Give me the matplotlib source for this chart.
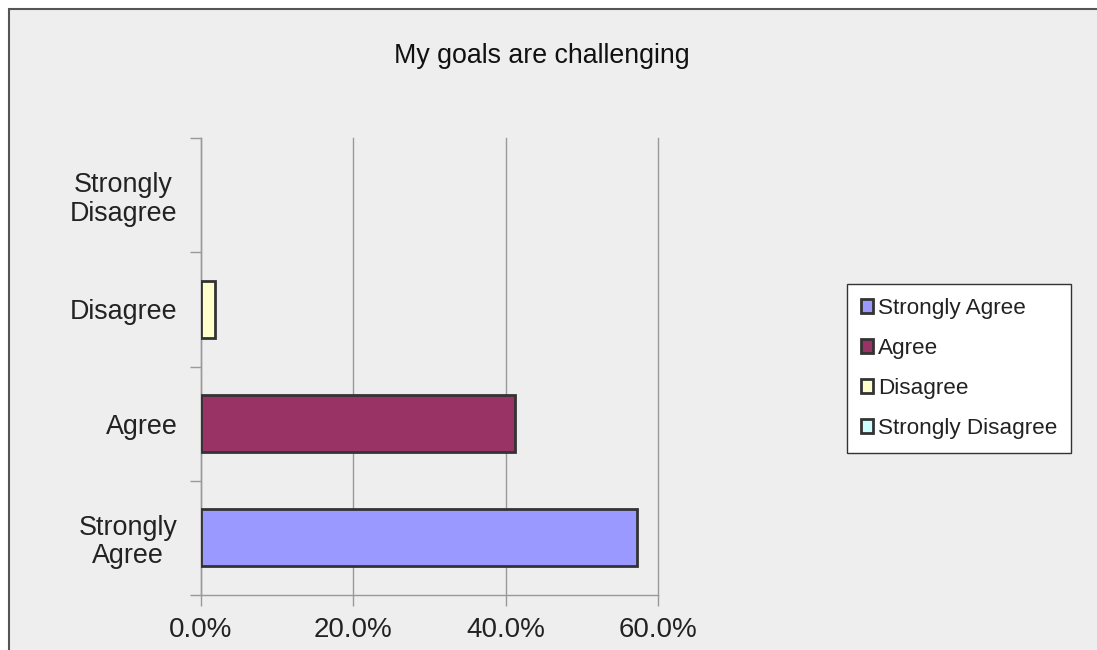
import matplotlib
matplotlib.use("Agg")
import matplotlib.pyplot as plt
from matplotlib.patches import Rectangle
from matplotlib.ticker import PercentFormatter

# data
categories = ["Strongly Agree", "Agree", "Disagree", "Strongly Disagree"]
tick_labels = ["Strongly\nAgree", "Agree", "Disagree", "Strongly\nDisagree"]
values = [0.572, 0.412, 0.019, 0.0]
colors = ["#9999FF", "#993366", "#FFFFCC", "#CCFFFF"]
x_ticks = [0.0, 0.2, 0.4, 0.6]

plt.rcParams['font.family'] = ['Liberation Sans', 'DejaVu Sans']

W, H = 1097, 650
fig = plt.figure(figsize=(W / 100, H / 100), dpi=100, facecolor="white")

# chart area background with the border on left/top
bg = Rectangle((9 / W, -0.02), 1.05, 1 - 9 / H + 0.02, transform=fig.transFigure,
               facecolor="#EEEEEE", edgecolor="#555555", linewidth=1.5, zorder=-10)
fig.patches.append(bg)

ax = fig.add_axes([201 / W, 1 - 595 / H, (658 - 201) / W, (595 - 138) / H])
ax.set_facecolor("none")

for i, (cat, val, col) in enumerate(zip(categories, values, colors)):
    # a zero bar shows nothing, not even an edge
    ec = "#333333" if val > 0 else "none"
    b = ax.barh(i, val, height=0.5, color=col, edgecolor=ec, linewidth=2,
                label=cat, zorder=3)

ax.set_xlim(0, 0.6)
ax.set_ylim(-0.5, 3.5)
ax.set_xticks(x_ticks)
ax.xaxis.set_major_formatter(PercentFormatter(1.0, decimals=1))
ax.set_yticks(range(len(categories)))
ax.set_yticklabels(tick_labels, ha="right", multialignment="center", linespacing=1.12)
ax.set_yticks([-0.5, 0.5, 1.5, 2.5, 3.5], minor=True)

ax.tick_params(axis="y", which="major", length=0, pad=17, labelsize=19.4, labelcolor="#222222")
ax.tick_params(axis="y", which="minor", length=8, color="#999999", width=1)
ax.tick_params(axis="x", length=8, color="#999999", width=1, pad=7.5, labelsize=20,
               labelcolor="#222222")

ax.grid(axis="x", color="#999999", linewidth=1, zorder=0)
for gl in ax.get_xgridlines():
    gl.set_clip_on(False)
for s in ["top", "right"]:
    ax.spines[s].set_visible(False)
for s in ["left", "bottom"]:
    ax.spines[s].set_color("#999999")
    ax.spines[s].set_linewidth(1)

fig.text(542 / W, 1 - 56 / H, "My goals are challenging", ha="center", va="center",
         fontsize=19.3, color="#111111")

leg = ax.legend(loc="center left", bbox_to_anchor=(847 / W, 1 - 368.5 / H),
                bbox_transform=fig.transFigure, frameon=True, fancybox=False,
                fontsize=16.2, handlelength=0.56, handleheight=0.56, handletextpad=0.22,
                labelspacing=0.85, borderpad=0.6, borderaxespad=0, edgecolor="#333333",
                framealpha=1)
leg.get_frame().set_facecolor("white")
leg.get_frame().set_linewidth(1)
for t in leg.get_texts():
    t.set_color("#222222")
for h in leg.legend_handles:
    h.set_edgecolor("#333333")
    h.set_linewidth(2)

fig.savefig("out.png", dpi=100, facecolor=fig.get_facecolor())
